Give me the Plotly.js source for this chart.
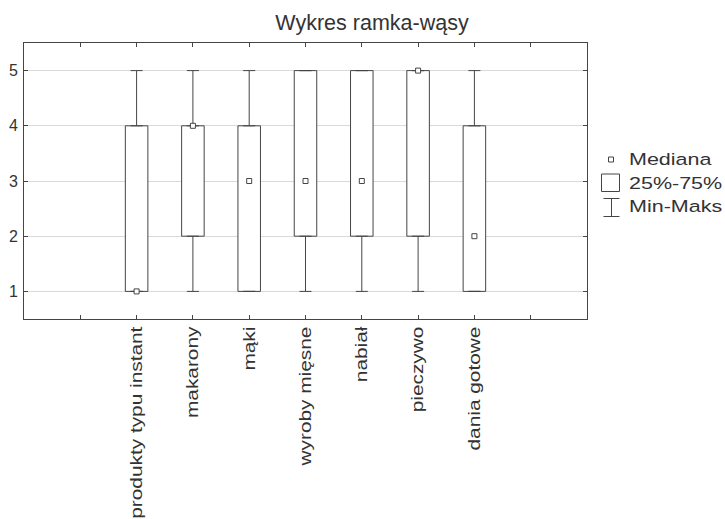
<!DOCTYPE html>
<html>
<head>
<meta charset="utf-8">
<script src="https://cdn.plot.ly/plotly-3.0.1.min.js"></script>
<style>
  html, body { margin: 0; padding: 0; background: #ffffff; }
  #chart { width: 725px; height: 519px; }
</style>
</head>
<body>
<div id="chart"></div>
<script>
// ---- data ----
const categories = ['produkty typu instant', 'makarony', 'mąki', 'wyroby mięsne', 'nabiał', 'pieczywo', 'dania gotowe'];
const minVals    = [1, 1, 1, 1, 1, 1, 1];
const q1Vals     = [1, 2, 1, 2, 2, 2, 1];
const medianVals = [1, 4, 3, 3, 3, 5, 2];
const q3Vals     = [4, 4, 4, 5, 5, 5, 4];
const maxVals    = [5, 5, 5, 5, 5, 5, 5];
const yTickVals  = [1, 2, 3, 4, 5];
const legendLabels = ['Mediana', '25%-75%', 'Min-Maks'];
const chartTitle = 'Wykres ramka-wąsy';

// ---- style ----
const W = 725, H = 519;
const M = { l: 24, r: 138, t: 43, b: 200 };
const LINE = '#454545';
const TEXT = '#333333';
const FONT = 'Liberation Sans, Arial, sans-serif';

const xIdx = categories.map((_, i) => i);
const boxHeights = q3Vals.map((v, i) => v - q1Vals[i]);
const upperWhisk = maxVals.map((v, i) => v - q3Vals[i]);
const lowerWhisk = q1Vals.map((v, i) => v - minVals[i]);
const zeros = categories.map(() => 0);

const traces = [
  {
    type: 'bar', x: xIdx, y: boxHeights, base: q1Vals, width: 0.4,
    marker: { color: '#ffffff', line: { color: LINE, width: 1 } },
    hoverinfo: 'skip', showlegend: false
  },
  {
    type: 'scatter', mode: 'markers', x: xIdx, y: q3Vals,
    marker: { color: 'rgba(0,0,0,0)', size: 1 },
    error_y: { type: 'data', symmetric: false, array: upperWhisk, arrayminus: zeros, color: LINE, thickness: 1, width: 6 },
    hoverinfo: 'skip', showlegend: false
  },
  {
    type: 'scatter', mode: 'markers', x: xIdx, y: q1Vals,
    marker: { color: 'rgba(0,0,0,0)', size: 1 },
    error_y: { type: 'data', symmetric: false, array: zeros, arrayminus: lowerWhisk, color: LINE, thickness: 1, width: 6 },
    hoverinfo: 'skip', showlegend: false
  },
  {
    type: 'scatter', mode: 'markers', x: xIdx, y: medianVals,
    marker: { symbol: 'square', size: 5, color: '#ffffff', line: { color: LINE, width: 1 } },
    hoverinfo: 'skip', showlegend: false
  }
];

// pixel -> paper helpers for the hand-made legend
const PW = W - M.l - M.r, PH = H - M.t - M.b;
const px = v => (v - M.l) / PW;
const py = v => (H - M.b - v) / PH;

const shapes = [
  // median symbol
  { type: 'rect', xref: 'paper', yref: 'paper', x0: px(608.5), x1: px(613.5), y0: py(157), y1: py(162),
    line: { color: LINE, width: 1 }, fillcolor: '#ffffff' },
  // 25-75 box symbol
  { type: 'rect', xref: 'paper', yref: 'paper', x0: px(601.5), x1: px(619.5), y0: py(174), y1: py(191.5),
    line: { color: LINE, width: 1 }, fillcolor: '#ffffff' },
  // min-max symbol
  { type: 'line', xref: 'paper', yref: 'paper', x0: px(611.5), x1: px(611.5), y0: py(198.5), y1: py(216.5),
    line: { color: LINE, width: 1 } },
  { type: 'line', xref: 'paper', yref: 'paper', x0: px(603.5), x1: px(619.5), y0: py(198.5), y1: py(198.5),
    line: { color: LINE, width: 1 } },
  { type: 'line', xref: 'paper', yref: 'paper', x0: px(603.5), x1: px(619.5), y0: py(216.5), y1: py(216.5),
    line: { color: LINE, width: 1 } }
];

const legendY = [158.5, 182.5, 205.5];
const annotations = legendLabels.map((t, i) => ({
  text: t, xref: 'paper', yref: 'paper', x: px(628), y: py(legendY[i]),
  xanchor: 'left', yanchor: 'middle', showarrow: false, borderpad: 0,
  font: { family: FONT, size: 16.3, color: TEXT }
}));

const layout = {
  width: W, height: H,
  margin: M,
  paper_bgcolor: '#ffffff', plot_bgcolor: '#ffffff',
  showlegend: false,
  bargap: 0,
  title: {
    text: chartTitle, xref: 'container', yref: 'container',
    x: 372 / W, xanchor: 'center', y: 1 - 22 / H, yanchor: 'middle',
    font: { family: FONT, size: 21.5, color: TEXT }
  },
  xaxis: {
    type: 'linear', range: [-2, 8],
    tickmode: 'array', tickvals: [-1].concat(xIdx, [categories.length]),
    ticktext: [''].concat(categories, ['']),
    tickangle: -90, ticks: 'inside', ticklen: 4, tickcolor: LINE, tickwidth: 1,
    showline: true, linecolor: LINE, linewidth: 1, mirror: 'ticks',
    showgrid: false, zeroline: false,
    tickfont: { family: FONT, size: 16.5, color: TEXT }
  },
  yaxis: {
    range: [0.5, 5.5], tickmode: 'array', tickvals: yTickVals,
    ticks: 'inside', ticklen: 4, tickcolor: LINE, tickwidth: 1,
    showline: true, linecolor: LINE, linewidth: 1, mirror: 'ticks',
    showgrid: true, gridcolor: '#d9d9d9', gridwidth: 1, zeroline: false,
    ticklabelstandoff: 2,
    tickfont: { family: FONT, size: 16, color: TEXT }
  },
  shapes: shapes,
  annotations: annotations
};

// widen glyphs along the baseline (the reference font is drawn wide)
function stretch(el, f, keepLeft) {
  const L = el.getComputedTextLength();
  if (L > 0) {
    if (keepLeft) {
      const anchor = el.getAttribute('text-anchor') || getComputedStyle(el).textAnchor;
      const x = parseFloat(el.getAttribute('x') || '0');
      let left = x;
      if (anchor === 'middle') left = x - L / 2;
      else if (anchor === 'end') left = x - L;
      el.setAttribute('text-anchor', 'start');
      el.style.textAnchor = 'start';
      el.setAttribute('x', left.toFixed(2));
    }
    el.setAttribute('textLength', (L * f).toFixed(2));
    el.setAttribute('lengthAdjust', 'spacingAndGlyphs');
  }
}

Plotly.newPlot('chart', traces, layout, { staticPlot: true, displayModeBar: false }).then(gd => {
  gd.querySelectorAll('.xtick text').forEach(t => stretch(t, 1.262, false));
  gd.querySelectorAll('.annotation-text').forEach(t => stretch(t, 1.32, true));
});
</script>
</body>
</html>
